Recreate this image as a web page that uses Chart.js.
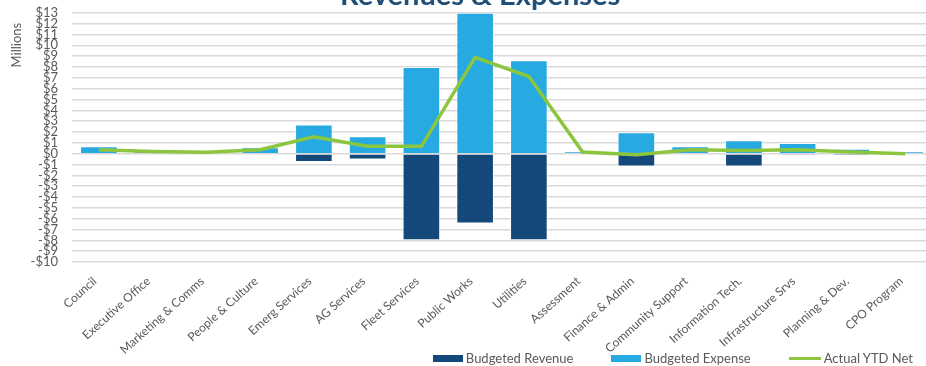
<!DOCTYPE html>
<html>
<head>
<meta charset="utf-8">
<script src="https://cdn.jsdelivr.net/npm/chart.js@4.4.1/dist/chart.umd.min.js"></script>
<style>
    html, body { margin: 0; padding: 0; background: #fff; overflow: hidden; width: 926px; height: 366px; }
    #wrap { position: absolute; left: 0; top: -22px; width: 955px; height: 388px; }
    #legend {
        position: absolute; right: 13px; top: 351px; height: 14px;
        display: flex; align-items: center; gap: 38px;
        font: 13px Lato, "Liberation Sans", sans-serif; color: #595959; line-height: 14px;
    }
    #legend .item { display: flex; align-items: center; white-space: nowrap; }
    #legend .swatch { display: inline-block; margin-right: 3px; }
</style>
</head>
<body>
<div id="wrap"><canvas id="budgetChart"></canvas></div>
<div id="legend"></div>
<script>
const categories = ['Council', 'Executive Office', 'Marketing & Comms', 'People & Culture', 'Emerg Services',
    'AG Services', 'Fleet Services', 'Public Works', 'Utilities', 'Assessment', 'Finance & Admin',
    'Community Support', 'Information Tech.', 'Infrastructure Srvs', 'Planning & Dev.', 'CPO Program'];

// values in millions of dollars
const budgetedRevenue = [0, 0, 0, 0, -0.77, -0.53, -8.0, -6.44, -8.0, 0, -1.18, -0.1, -1.18, -0.02, -0.19, -0.08];
const budgetedExpense = [0.68, 0.43, 0.3, 0.58, 2.69, 1.6, 8.0, 13.0, 8.63, 0.2, 1.98, 0.68, 1.24, 0.99, 0.46, 0.2];
const actualYtdNet = [0.37, 0.21, 0.12, 0.37, 1.55, 0.68, 0.68, 8.88, 7.12, 0.15, -0.1, 0.37, 0.3, 0.37, 0.15, 0.0];

const yMin = -10;
const yMax = 13;

const textGrey = '#595959';
const fontFamily = 'Lato, "Liberation Sans", sans-serif';

function dollarLabel(value) {
    return value < 0 ? '-$' + Math.abs(value) : '$' + value;
}

const ctx = document.getElementById('budgetChart').getContext('2d');

const chart = new Chart(ctx, {
    type: 'bar',
    data: {
        labels: categories,
        datasets: [
            {
                label: 'Budgeted Revenue',
                data: budgetedRevenue,
                backgroundColor: '#15487a',
                borderColor: 'rgba(255,255,255,0.7)',
                borderWidth: 1,
                stack: 'budget',
                order: 1
            },
            {
                label: 'Budgeted Expense',
                data: budgetedExpense,
                backgroundColor: '#27aae1',
                borderColor: 'rgba(255,255,255,0.7)',
                borderWidth: 1,
                stack: 'budget',
                order: 1
            },
            {
                type: 'line',
                label: 'Actual YTD Net',
                data: actualYtdNet,
                borderColor: '#8cc63f',
                backgroundColor: '#8cc63f',
                borderWidth: 3.5,
                pointRadius: 0,
                tension: 0,
                stack: 'net',
                order: 0
            }
        ]
    },
    options: {
        responsive: true,
        maintainAspectRatio: false,
        animation: false,
        layout: { padding: { left: 0, right: 23, top: 0, bottom: 0 } },
        datasets: {
            bar: { categoryPercentage: 1.0, barPercentage: 0.7 }
        },
        plugins: {
            title: {
                display: true,
                // leading spaces nudge the centred title to the right, like the original
                text: '\u00a0\u00a0\u00a0\u00a0Revenues & Expenses',
                color: '#1f4e79',
                font: { family: fontFamily, size: 29, weight: 'bold' },
                padding: { top: 0, bottom: 0 }
            },
            legend: { display: false },
            tooltip: { enabled: false }
        },
        scales: {
            x: {
                stacked: true,
                grid: { display: false },
                border: { display: false },
                afterFit: (scale) => { scale.height = 104; },
                ticks: {
                    color: textGrey,
                    font: { family: fontFamily, size: 12 },
                    minRotation: 42,
                    maxRotation: 42,
                    autoSkip: false,
                    labelOffset: -4,
                    padding: 4
                }
            },
            y: {
                stacked: true,
                min: yMin,
                max: yMax,
                grid: { color: '#d9d9d9', lineWidth: 1.5, drawTicks: false },
                border: { display: false },
                afterFit: (scale) => { scale.width = 72; },
                title: {
                    display: true,
                    text: 'Millions\u00a0\u00a0\u00a0',
                    align: 'end',
                    color: textGrey,
                    font: { family: fontFamily, size: 13 },
                    padding: { top: 9, bottom: 0 }
                },
                ticks: {
                    stepSize: 1,
                    autoSkip: false,
                    padding: 14,
                    color: textGrey,
                    font: { family: fontFamily, size: 13, lineHeight: 0.9 },
                    callback: (value) => dollarLabel(value)
                }
            }
        }
    }
});

// html legend built from the chart's datasets
const legendEl = document.getElementById('legend');
chart.data.datasets.forEach((ds) => {
    const item = document.createElement('span');
    item.className = 'item';
    const swatch = document.createElement('span');
    swatch.className = 'swatch';
    if (ds.type === 'line') {
        swatch.style.width = '32px';
        swatch.style.height = '3px';
        swatch.style.background = ds.borderColor;
    } else {
        swatch.style.width = '30px';
        swatch.style.height = '7px';
        swatch.style.background = ds.backgroundColor;
    }
    item.appendChild(swatch);
    item.appendChild(document.createTextNode(ds.label));
    legendEl.appendChild(item);
});
</script>
</body>
</html>
